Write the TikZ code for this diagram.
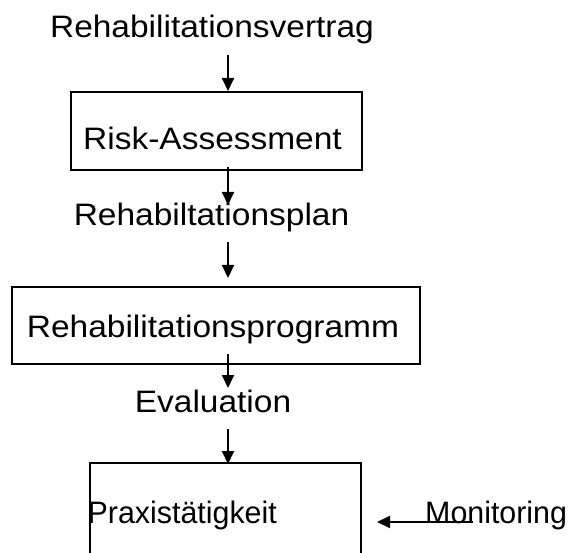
\documentclass[tikz,border=0pt]{standalone}
\usepackage{fontspec}
\setmainfont[FakeStretch=1.08]{Liberation Sans}
\newfontfamily\narrowfont[FakeStretch=0.98]{Liberation Sans}
\usetikzlibrary{arrows.meta}
\begin{document}
\begin{tikzpicture}[x=1pt,y=-1pt,
  txt/.style={inner sep=0pt, anchor=base, font=\fontsize{31}{37}\selectfont},
  ntxt/.style={inner sep=0pt, anchor=base west, font=\narrowfont\fontsize{31}{37}\selectfont},
  boxnode/.style={draw=black, line width=2pt, inner sep=0pt, rectangle},
  arr/.style={line width=1.9pt, -{Triangle[width=12pt,length=13pt]}}]
\useasboundingbox (0,0) rectangle (570,553);
\clip (0,0) rectangle (570,553);
\fill[white] (0,0) rectangle (570,553);

% boxes
\node[boxnode, minimum width=291.5pt, minimum height=78pt] (b1) at (216.25,131) {};
\node[boxnode, minimum width=408pt, minimum height=76.5pt] (b2) at (216,325.75) {};
\node[boxnode, minimum width=271.5pt, minimum height=150pt] (b3) at (225.25,538) {};

% texts
\node[txt] (t0) at (212,37.5) {Rehabilitationsvertrag};
\node[txt] (t1) at (212.5,150) {Risk-Assessment};
\node[txt] (t2) at (211.5,226) {Rehabiltationsplan};
\node[txt] (t3) at (213,337) {Rehabilitationsprogramm};
\node[txt] (t4) at (213,412) {Evaluation};
\node[ntxt] (t5) at (87.5,523) {Praxistätigkeit};
\node[ntxt] (t6) at (425,523) {Monitoring};

% arrow end points
\coordinate (a1s) at (228,55);
\coordinate (a1e) at (228,91);
\coordinate (a2s) at (228,167);
\coordinate (a2e) at (228,205);
\coordinate (a3s) at (228,242);
\coordinate (a3e) at (228,278);
\coordinate (a4s) at (228,354);
\coordinate (a4e) at (228,388);
\coordinate (a5s) at (228,429);
\coordinate (a5e) at (228,464);
\coordinate (a6s) at (473,522);
\coordinate (a6e) at (377,522);

\draw[arr] (a1s) -- (a1e);
\draw[arr] (a2s) -- (a2e);
\draw[arr] (a3s) -- (a3e);
\draw[arr] (a4s) -- (a4e);
\draw[arr] (a5s) -- (a5e);
\draw[arr] (a6s) -- (a6e);
\end{tikzpicture}
\end{document}
